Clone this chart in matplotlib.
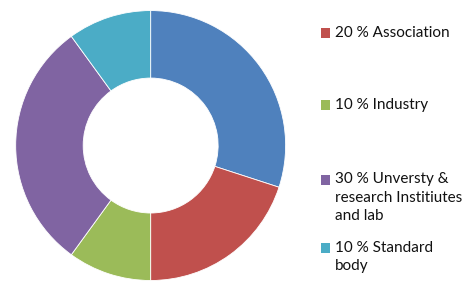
import matplotlib
matplotlib.use('Agg')
import matplotlib.pyplot as plt
from matplotlib.patches import Rectangle

# Data
labels = ['30 % Other', '20 % Association', '10 % Industry',
          '30 % Unversty &\nresearch Institiutes\nand lab', '10 % Standard\nbody']
shares = [30, 20, 10, 30, 10]
colors = ['#4F81BD', '#C0504D', '#9BBB59', '#8064A2', '#4BACC6']

plt.rcParams['font.family'] = ['Lato', 'DejaVu Sans']

fig = plt.figure(figsize=(4.67, 2.97), dpi=100)
ax = fig.add_axes([0.0336, 0.0555, 0.578, 0.909])
ax.pie(shares, colors=colors, startangle=90, counterclock=False,
       wedgeprops=dict(width=0.5, edgecolor='white', linewidth=0.6))
ax.set_xlim(-1, 1)
ax.set_ylim(-1, 1)
ax.set_aspect('equal')
ax.axis('off')

# Legend (first entry is cut off in the original)
W, H = 467, 297
rows_y = [33.5, 105, 180, 248]
for lab, col, y in zip(labels[1:], colors[1:], rows_y):
    fig.patches.append(Rectangle((320.5 / W, 1 - (y + 4.5) / H), 9.5 / W, 9.5 / H,
                                 transform=fig.transFigure, facecolor=col,
                                 edgecolor='none'))
    fig.text(335 / W, 1 - (y - 7.5) / H, lab, ha='left', va='top',
             fontsize=11, color='#111111', linespacing=1.4)

fig.savefig('out.png', dpi=100)
